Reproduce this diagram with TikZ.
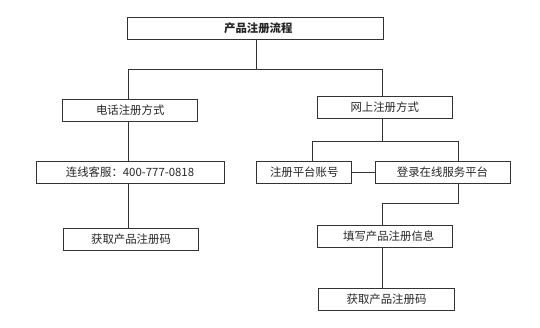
\documentclass[tikz,border=0pt]{standalone}
\usepackage{fontspec}
\setmainfont{Noto Sans CJK SC}
\begin{document}
\begin{tikzpicture}[x=1pt,y=-1pt,
  box/.style={draw=black!80, line width=0.8pt, rectangle, inner sep=0pt, minimum height=22pt, font=\fontsize{11.4}{13}\selectfont, text=black!85},
  conn/.style={draw=black!80, line width=0.8pt}]
\useasboundingbox (0,0) rectangle (540,327);
\node[box, minimum width=256.7pt, font=\fontsize{11.4}{13}\selectfont\bfseries] (title) at (255.3,28.3) {\hspace{6pt}产品注册流程};
\node[box, minimum width=135pt] (phone) at (130.2,110.3) {电话注册方式};
\node[box, minimum width=135.3pt] (online) at (384.7,107.3) {网上注册方式};
\node[box, minimum width=188pt] (hot) at (130,172.3) {连线客服：400-777-0818};
\node[box, minimum width=135.4pt] (codeL) at (131,239.3) {获取产品注册码};
\node[box, minimum width=95pt] (reg) at (304.2,172.3) {注册平台账号};
\node[box, minimum width=135pt] (login) at (442.5,172.3) {登录在线服务平台};
\node[box, minimum width=135.3pt] (fill) at (384.7,236.3) {\hspace{8pt}填写产品注册信息};
\node[box, minimum width=135.6pt] (codeR) at (386.5,299.3) {获取产品注册码};

\coordinate (j1) at (256.7,69.3);
\coordinate (jl) at (128.3,69.3);
\coordinate (jr) at (382.7,69.3);
\coordinate (j2a) at (312,141.3);
\coordinate (j2b) at (458,141.3);
\coordinate (j3a) at (458,203.3);
\coordinate (j3b) at (382.7,203.3);

\draw[conn] (title.south -| j1) -- (j1);
\draw[conn] (phone.north -| jl) -- (jl) -- (jr) -- (online.north -| jr);
\draw[conn] (phone.south -| jl) -- (hot.north -| jl);
\draw[conn] (hot.south -| jl) -- (codeL.north -| jl);
\draw[conn] (online.south -| jr) -- (jr |- j2a);
\draw[conn] (reg.north -| j2a) -- (j2a) -- (j2b) -- (login.north -| j2b);
\draw[conn] (reg.east) -- (login.west);
\draw[conn] (login.south -| j3a) -- (j3a) -- (j3b) -- (fill.north -| j3b);
\draw[conn] (fill.south -| j3b) -- (codeR.north -| j3b);
\end{tikzpicture}
\end{document}
